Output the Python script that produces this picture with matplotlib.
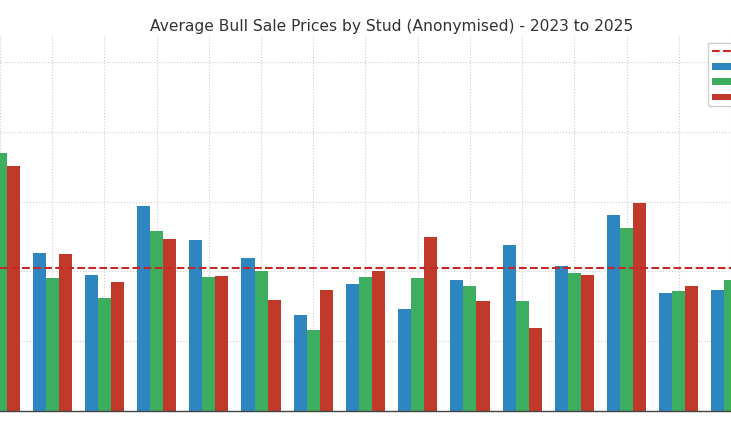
import matplotlib
matplotlib.use("Agg")
import matplotlib.pyplot as plt
import numpy as np

# ---- data ----
studs = ["Stud A", "Stud B", "Stud C", "Stud D", "Stud E", "Stud F", "Stud G", "Stud H",
         "Stud I", "Stud J", "Stud K", "Stud L", "Stud M", "Stud N", "Stud O"]
years = ["2023", "2024", "2025"]
prices_2023 = [7600, 4536, 3905, 5883, 4900, 4375, 2742, 3630, 2914, 3754, 4748, 4163, 5616, 3372, 3476]
prices_2024 = [7401, 3802, 3238, 5149, 3840, 4020, 2330, 3831, 3802, 3590, 3143, 3954, 5252, 3430, 3745]
prices_2025 = [7029, 4507, 3705, 4920, 3868, 3181, 3458, 4011, 4986, 3160, 2378, 3897, 5951, 3582, 3600]
overall_average = 4097

colors = ["#2E86C1", "#3DAE5F", "#C0392B"]
W, H = 731, 425
fig = plt.figure(figsize=(W / 100, H / 100), dpi=100)

# axes: bottom at y=411 px, top at y=35 px, spanning the full width
bottom = (H - 411) / H
top = (H - 35) / H
ax = fig.add_axes([0, bottom, 1, top - bottom])

x = np.arange(len(studs))
bw = 0.25
ax.axhline(overall_average, color="#C62828", linestyle="--", linewidth=1.5,
           label="Overall Average", zorder=3)
for i, (vals, yr) in enumerate(zip([prices_2023, prices_2024, prices_2025], years)):
    ax.bar(x + (i - 1) * bw, vals, width=bw, color=colors[i], label=yr, zorder=2)

ax.set_xlim(0, 14)
ax.set_ylim(0, 10780)
ax.set_yticks(np.arange(0, 10001, 2000))
ax.set_xticks(x)
ax.set_xticklabels(studs)
ax.tick_params(axis="x", labelbottom=False, direction="in", length=3, color="#333333")
ax.tick_params(axis="y", labelleft=False, length=0)
ax.grid(True, linestyle=":", color="#cccccc", linewidth=0.8, zorder=0)
ax.set_axisbelow(True)
for s in ["top", "right", "left"]:
    ax.spines[s].set_visible(False)
ax.spines["bottom"].set_color("#444444")
ax.spines["bottom"].set_linewidth(1.0)

fig.text(392 / W, 1 - 31 / H, "Average Bull Sale Prices by Stud (Anonymised) - 2023 to 2025",
         ha="center", va="baseline", fontsize=11.2, color="#333333")

fig.legend(loc="upper left", bbox_to_anchor=(708 / W, 1 - 42.5 / H), borderaxespad=0,
           fontsize=7, labelspacing=0.55, frameon=True, edgecolor="#cccccc", framealpha=1)

fig.savefig("out.png", dpi=100)
